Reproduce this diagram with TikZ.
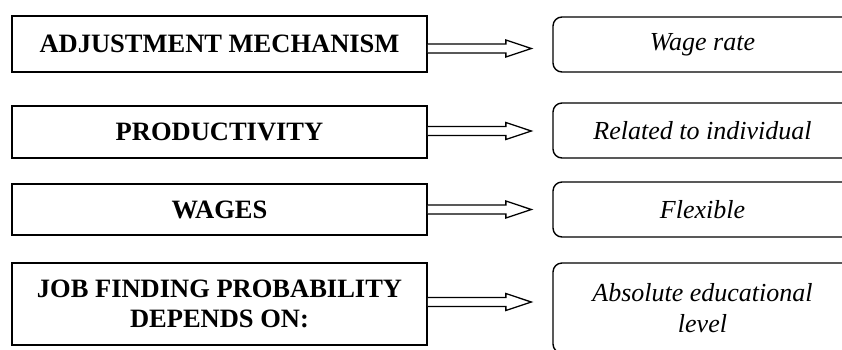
\documentclass[tikz,border=0pt]{standalone}
\usepackage{fontspec}
\setmainfont{Liberation Serif}
\usetikzlibrary{calc}

\tikzset{
  causebox/.style={draw, line width=1.7pt, minimum width=415pt, inner sep=0pt,
    align=center, font=\bfseries\fontsize{26.5}{30}\selectfont},
  effectbox/.style={draw, line width=1.4pt, rounded corners=9pt, minimum width=299pt,
    inner sep=0pt, align=center, font=\itshape\fontsize{26}{31}\selectfont},
  fatarrow/.style={draw, line width=1.3pt, fill=white, line join=miter}
}

% hollow block arrow leaving the right side of a box (#1), pointing at box #2,
% shifted vertically by #3
\newcommand\blockarrow[3]{%
  \draw[fatarrow]
    ($(#1.east)+(0,#3-4.5)$) -- ($(#1.east)+(78,#3-4.5)$) --
    ($(#1.east)+(78,#3-8.5)$) -- ($(#2.west |- #1.east)+(-21,#3)$) --
    ($(#1.east)+(78,#3+8.5)$) -- ($(#1.east)+(78,#3+4.5)$) --
    ($(#1.east)+(0,#3+4.5)$);}

\begin{document}
\begin{tikzpicture}[x=1pt,y=-1pt]
  \useasboundingbox (0,0) rectangle (842,349);
  \clip (0,0) rectangle (842,349);

  % left column
  \node[causebox, minimum height=56pt] (l1) at (219.5,44)    {ADJUSTMENT MECHANISM};
  \node[causebox, minimum height=52pt] (l2) at (219.5,132)   {PRODUCTIVITY};
  \node[causebox, minimum height=51pt] (l3) at (219.5,209.5) {WAGES};
  \node[causebox, minimum height=82pt] (l4) at (219.5,304)   {JOB FINDING PROBABILITY\\DEPENDS ON:};

  % right column
  \node[effectbox, minimum height=55pt] (r1) at (702.5,44.5)  {Wage rate};
  \node[effectbox, minimum height=55pt] (r2) at (702.5,130.5) {Related to individual};
  \node[effectbox, minimum height=55pt] (r3) at (702.5,209.5) {Flexible};
  \node[effectbox, minimum height=90pt] (r4) at (702.5,308)   {Absolute educational\\level};

  % connectors
  \blockarrow{l1}{r1}{4.5}
  \blockarrow{l2}{r2}{-1}
  \blockarrow{l3}{r3}{0}
  \blockarrow{l4}{r4}{-2}
\end{tikzpicture}
\end{document}
